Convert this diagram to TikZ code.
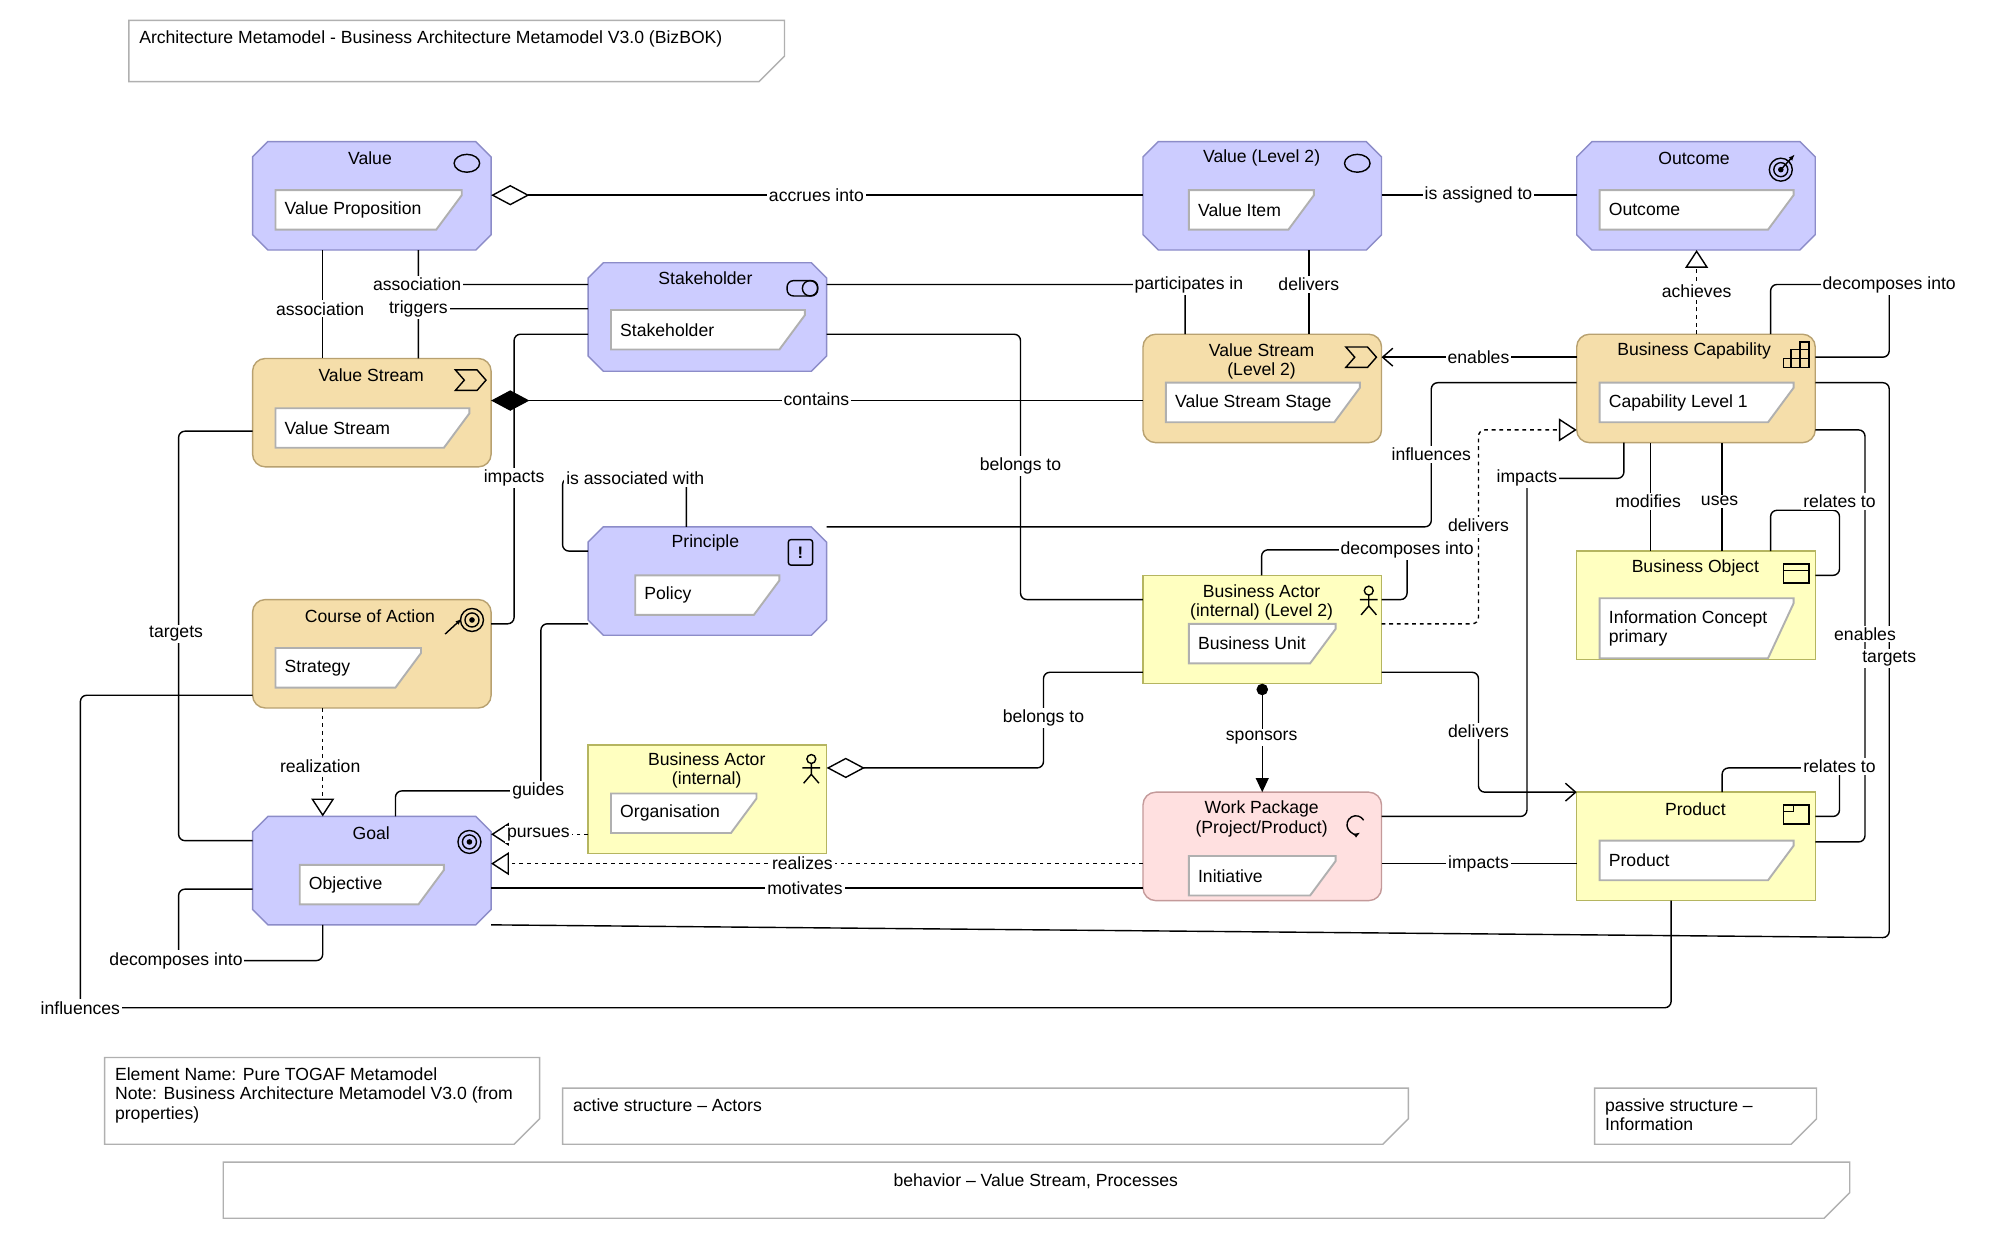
\documentclass[tikz,border=0pt]{standalone}
\usepackage{fontspec}
\setmainfont{Liberation Sans}
\usetikzlibrary{arrows.meta}
\definecolor{motf}{HTML}{CCCCFF}\definecolor{motd}{HTML}{8C8CC8}
\definecolor{beif}{HTML}{F5DEAA}\definecolor{beid}{HTML}{B8A170}
\definecolor{yelf}{HTML}{FFFFC0}\definecolor{yeld}{HTML}{B5B560}
\definecolor{pinf}{HTML}{FFE0E0}\definecolor{pind}{HTML}{C49A9A}
\definecolor{notd}{HTML}{B0B0B0}
\tikzset{
 txt/.style={font=\fontsize{13.8}{15}\selectfont, inner sep=0pt, align=center},
 lbl/.style={font=\fontsize{13.8}{15}\selectfont, fill=white, inner sep=1.5pt},
 el/.style={draw, line width=1.1pt, inner sep=0pt, outer sep=0pt},
 mot/.style={rectangle, inner sep=0pt, outer sep=0pt},
 motline/.style={fill=motf, draw=motd, line width=1.1pt},
 bei/.style={el, rectangle, rounded corners=10pt, fill=beif, draw=beid},
 yel/.style={el, rectangle, fill=yelf, draw=yeld},
 pin/.style={el, rectangle, rounded corners=10pt, fill=pinf, draw=pind},
 innerst/.style={draw=notd, line width=1.5pt, fill=white},
 con/.style={line width=1.1pt, rounded corners=5pt},
 dsh/.style={con, dash pattern=on 3pt off 3pt},
 ico/.style={line width=1.1pt},
 otri/.style={-{Triangle[open,length=14pt,width=18pt,line width=1.1pt]}},
 ovee/.style={-{Straight Barb[length=8pt,width=14pt,line width=1.1pt]}},
}
\newcommand{\elem}[6]{\node[#1, minimum width={(#5-#3)*1pt}, minimum height={(#6-#4)*1pt}] (#2) at ({(#3+#5)/2},{(#4+#6)/2}) {};}
\newcommand{\motel}[5]{\draw[motline] ({#2+12},#3) -- ({#4-12},#3) -- (#4,{#3+12}) -- (#4,{#5-12}) -- ({#4-12},#5) -- ({#2+12},#5) -- (#2,{#5-12}) -- (#2,{#3+12}) -- cycle;
 \elem{mot}{#1}{#2}{#3}{#4}{#5}}
\newcommand{\innerbox}[6]{\draw[innerst] (#2,#3) -- (#4,#3) -- (#4,{#3+4}) -- ({#4-20},#5) -- (#2,#5) -- cycle;
 \node[txt, anchor=west, align=left] (#1) at ({#2+7},{(#3+#5)/2}) {#6};}
\newcommand{\notebox}[6]{\draw[notd, line width=1.1pt, fill=white] (#2,#3) -- (#4,#3) -- (#4,{#5-20}) -- ({#4-20},#5) -- (#2,#5) -- cycle;
 \node[txt, anchor=north west, align=left] (#1) at ({#2+8},{#3+8}) {#6};}
\begin{document}
\begin{tikzpicture}[x=1pt,y=-1pt]
\useasboundingbox[fill=white] (0,0) rectangle (1560,967);
% title
\notebox{title}{101}{16}{615}{64}{Architecture Metamodel - Business Architecture Metamodel V3.0 (BizBOK)}
% elements
\motel{value}{198}{111}{385}{196}
\motel{vl2}{896}{111}{1083}{196}
\motel{outc}{1236}{111}{1423}{196}
\motel{stake}{461}{206}{648}{291}
\elem{bei}{vs}{198}{281}{385}{366}
\elem{bei}{vsl2}{896}{262}{1083}{347}
\elem{bei}{bc}{1236}{262}{1423}{347}
\motel{princ}{461}{413}{648}{498}
\elem{bei}{coa}{198}{470}{385}{555}
\elem{yel}{ba2}{896}{451}{1083}{536}
\elem{yel}{bo}{1236}{432}{1423}{517}
\elem{yel}{bai}{461}{584}{648}{669}
\motel{goal}{198}{640}{385}{725}
\elem{pin}{wp}{896}{621}{1083}{706}
\elem{yel}{prod}{1236}{621}{1423}{706}
% titles
\node[txt] (value-t) at (290,124) {Value};
\node[txt] (vl2-t) at (989,124) {Value (Level 2)};
\node[txt] (outc-t) at (1328,124) {Outcome};
\node[txt] (stake-t) at (553,218) {Stakeholder};
\node[txt] (vs-t) at (291,294) {Value Stream};
\node[txt] (vsl2-t) at (989,283) {Value Stream\\(Level 2)};
\node[txt] (bc-t) at (1328,275) {Business Capability};
\node[txt] (princ-t) at (553,426) {Principle};
\node[txt] (coa-t) at (290,483) {Course of Action};
\node[txt] (ba2-t) at (989,472) {Business Actor\\(internal) (Level 2)};
\node[txt] (bo-t) at (1329,445) {Business Object};
\node[txt] (bai-t) at (554,604) {Business Actor\\(internal)};
\node[txt] (goal-t) at (291,653) {Goal};
\node[txt] (wp-t) at (989,642) {Work Package\\(Project/Product)};
\node[txt] (prod-t) at (1329,634) {Product};
% inner boxes
\innerbox{value-i}{216}{149}{362}{180}{Value Proposition}
\innerbox{vl2-i}{932}{149}{1030}{180}{Value Item}
\innerbox{outc-i}{1254}{149}{1406}{180}{Outcome}
\innerbox{stake-i}{479}{243}{631}{274}{Stakeholder}
\innerbox{vs-i}{216}{320}{368}{351}{Value Stream}
\innerbox{vsl2-i}{914}{300}{1066}{331}{Value Stream Stage}
\innerbox{bc-i}{1254}{300}{1406}{331}{Capability Level 1}
\innerbox{princ-i}{498}{451}{611}{482}{Policy}
\innerbox{coa-i}{216}{508}{330}{539}{Strategy}
\innerbox{ba2-i}{932}{489}{1047}{520}{Business Unit}
\innerbox{bo-i}{1254}{469}{1406}{516}{Information Concept\\primary}
\innerbox{bai-i}{479}{622}{593}{653}{Organisation}
\innerbox{goal-i}{235}{678}{348}{709}{Objective}
\innerbox{wp-i}{932}{671}{1047}{702}{Initiative}
\innerbox{prod-i}{1254}{659}{1406}{690}{Product}
% icons
\draw[ico] (366,128) ellipse (10 and 7);
\draw[ico] (1064,128) ellipse (10 and 7);
\foreach \cx/\cy in {1396/133, 370/486, 368/660}{
  \draw[ico] (\cx,\cy) circle (9); \draw[ico] (\cx,\cy) circle (5.5); \fill (\cx,\cy) circle (2.2);}
\draw[ico,-{Latex[length=5pt]}] (1396,133) -- (1407,121);
\draw[ico,-{Latex[length=5pt]}] (349,497) -- (362,485);
\draw[ico,rounded corners=5pt] (617,220) rectangle (641,232);
\draw[ico] (635,226) circle (6);
\foreach \ox/\oy in {357/290, 1055/272}{
  \draw[ico] (\ox,\oy) -- ++(17,0) -- ++(7,8) -- ++(-7,8) -- ++(-17,0) -- ++(7,-8) -- cycle;}
\draw[ico] (1398,288) -- (1418,288) -- (1418,268) -- (1411,268) -- (1411,288)
  (1398,288) -- (1398,281) -- (1418,281) (1404,288) -- (1404,274) -- (1418,274);
\draw[ico,rounded corners=2pt] (618,423) rectangle (637,443);
\node[font=\bfseries\fontsize{13}{13}\selectfont] (excl) at (627.5,433) {!};
\foreach \ax/\ay in {1073/468, 636/600}{
  \draw[ico] (\ax,\ay-5) circle (3.5);
  \draw[ico] (\ax,\ay-1.5) -- (\ax,\ay+7) (\ax-7,\ay+2) -- (\ax+7,\ay+2) (\ax-6,\ay+14) -- (\ax,\ay+7) -- (\ax+6,\ay+14);}
\draw[ico] (1398,442) rectangle (1418,457) (1398,447) -- (1418,447);
\draw[ico] (1398,631) rectangle (1418,646) (1398,636) -- (1406,636) -- (1406,631);
\draw[ico,-{Latex[length=5pt]}] (1069,643) arc[start angle=-30, end angle=-300, radius=7];
% connectors
\draw[con,{Diamond[open,length=30pt,width=16pt,line width=1.1pt]}-] (value.east|-0,153) -- (vl2.west|-0,153);
\draw[con] (vl2.east|-0,153) -- (outc.west|-0,153);
\draw[con] (value.south -| 253,0) -- (vs.north -| 253,0);
\draw[con] (value.south -| 328,0) |- (stake.west|-0,223);
\draw[con] (stake.west|-0,242) -| (vs.north -| 328,0);
\draw[con] (stake.east|-0,223) -| (vsl2.north -| 929,0);
\draw[con] (vl2.south -| 1026,0) -- (vsl2.north -| 1026,0);
\draw[con,{Diamond[length=30pt,width=16pt]}-] (vs.east|-0,314) -- (vsl2.west|-0,314);
\draw[con,ovee] (bc.west|-0,280) -- (vsl2.east|-0,280);
\draw[dsh,otri] (bc.north -| 1330,0) -- (outc.south -| 1330,0);
\draw[con] (bc.north -| 1388,0) |- (1481,223) |- (bc.east|-0,280);
\draw[con] (stake.west|-0,262) -| (403,489) -- (coa.east|-0,489);
\draw[con] (princ.west|-0,432) -| (441,375) -| (princ.north -| 538,0);
\draw[con] (stake.east|-0,262) -| (800,470) -- (ba2.west|-0,470);
\draw[con] (princ.east|-0,413) -| (1122,300) -- (bc.west|-0,300);
\draw[con] (wp.east|-0,640) -| (1197,375) -| (bc.south -| 1273,0);
\draw[dsh,otri] (ba2.east|-0,489) -| (1159,337) -- (bc.west|-0,337);
\draw[con] (bo.north -| 1294,0) -- (bc.south -| 1294,0);
\draw[con] (bo.north -| 1350,0) -- (bc.south -| 1350,0);
\draw[con] (bo.north -| 1388,0) |- (1442,400) |- (bo.east|-0,451);
\draw[con] (bc.east|-0,337) -| (1462,660) -- (prod.east|-0,660);
\draw[con] (goal.east|-0,725) -- (1481,735) -- (1481,300) -- (bc.east|-0,300);
\draw[con] (ba2.north -| 989,0) |- (1103,431) |- (ba2.east|-0,470);
\draw[con,{Diamond[open,length=30pt,width=16pt,line width=1.1pt]}-] (bai.east|-0,602) -- (818,602) |- (ba2.west|-0,527);
\draw[con,{Circle[length=9pt]}-{Triangle[length=11pt,width=10pt]}] (ba2.south) -- (wp.north);
\draw[con,ovee] (ba2.east|-0,527) -| (1159,621) -- (prod.west|-0,621);
\draw[con] (wp.east|-0,677) -- (prod.west|-0,677);
\draw[dsh,otri] (wp.west|-0,677) -- (goal.east|-0,677);
\draw[con] (wp.west|-0,696) -- (goal.east|-0,696);
\draw[dsh,otri] (bai.west|-0,654) -- (goal.east|-0,654);
\draw[con] (princ.west|-0,489) -| (424,620) -| (goal.north -| 310,0);
\draw[dsh,otri] (coa.south -| 253,0) -- (goal.north -| 253,0);
\draw[con] (vs.west|-0,338) -| (140,659) -- (goal.west|-0,659);
\draw[con] (goal.south -| 253,0) |- (140,753) |- (goal.west|-0,697);
\draw[con] (coa.west|-0,545) -| (63,790) -| (prod.south -| 1310,0);
\draw[con] (prod.north -| 1350,0) |- (1442,602) |- (prod.east|-0,640);
% labels
\node[lbl] (l1) at (640,153) {accrues into};
\node[lbl] (l2) at (1159,153) {is assigned to};
\node[lbl] (l3) at (251,242) {association};
\node[lbl] (l4) at (327,223) {association};
\node[lbl] (l5) at (328,242) {triggers};
\node[lbl] (l6) at (932,223) {participates in};
\node[lbl] (l7) at (1026,223) {delivers};
\node[lbl] (l8) at (640,313) {contains};
\node[lbl] (l9) at (1159,280) {enables};
\node[lbl] (l10) at (1330,228) {achieves};
\node[lbl] (l11) at (1481,223) {decomposes into};
\node[lbl] (l12) at (403,375) {impacts};
\node[lbl] (l13) at (498,375) {is associated with};
\node[lbl] (l14) at (800,365) {belongs to};
\node[lbl] (l15) at (1122,356) {influences};
\node[lbl] (l16) at (1197,375) {impacts};
\node[lbl] (l17) at (1159,412) {delivers};
\node[lbl] (l18) at (1292,393) {modifies};
\node[lbl] (l19) at (1348,393) {uses};
\node[lbl] (l20) at (1442,393) {relates to};
\node[lbl] (l21) at (1462,497) {enables};
\node[lbl] (l22) at (1481,516) {targets};
\node[lbl] (l23) at (1103,431) {decomposes into};
\node[lbl] (l24) at (818,563) {belongs to};
\node[lbl] (l25) at (989,578) {sponsors};
\node[lbl] (l26) at (1159,573) {delivers};
\node[lbl] (l27) at (1159,677) {impacts};
\node[lbl] (l28) at (629,677) {realizes};
\node[lbl] (l29) at (631,696) {motivates};
\node[lbl] (l30) at (422,654) {pursues};
\node[lbl] (l31) at (422,620) {guides};
\node[lbl] (l32) at (251,601) {realization};
\node[lbl] (l33) at (138,497) {targets};
\node[lbl] (l34) at (138,753) {decomposes into};
\node[lbl] (l35) at (63,790) {influences};
\node[lbl] (l36) at (1442,601) {relates to};
% notes
\notebox{n1}{82}{829}{423}{897}{Element Name: Pure TOGAF Metamodel\\Note: Business Architecture Metamodel V3.0 (from\\properties)}
\notebox{n2}{441}{853}{1104}{897}{active structure -- Actors}
\notebox{n3}{1250}{853}{1424}{897}{passive structure --\\Information}
\draw[notd, line width=1.1pt] (175,911) -- (1450,911) -- (1450,935) -- (1430,955) -- (175,955) -- cycle;
\node[txt] (n4) at (812,926) {behavior -- Value Stream, Processes};
\end{tikzpicture}
\end{document}
